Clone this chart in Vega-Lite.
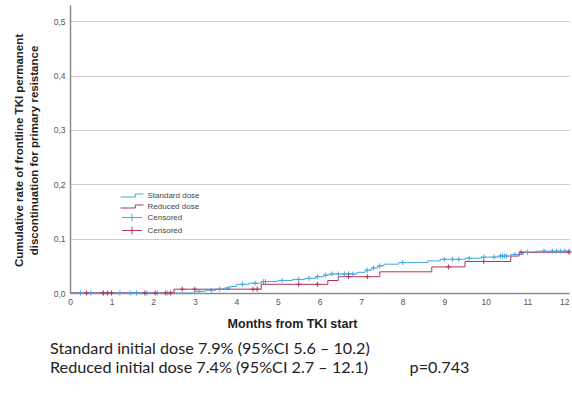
{
  "$schema": "https://vega.github.io/schema/vega-lite/v6.json",
  "width": 499,
  "height": 288,
  "autosize": {"type": "none"},
  "padding": {"left": 70, "top": 5, "right": 3, "bottom": 104},
  "background": "white",
  "config": {"view": {"stroke": null}, "font": "Liberation Sans", "axis": {"grid": false}},
  "title": {
    "text": ["Standard initial dose 7.9% (95%CI 5.6 – 10.2)", "Reduced initial dose 7.4% (95%CI 2.7 – 12.1)\u00a0\u00a0\u00a0\u00a0\u00a0\u00a0\u00a0\u00a0\u00a0\u00a0p=0.743"],
    "orient": "bottom",
    "anchor": "start",
    "frame": "group",
    "dx": -20,
    "offset": 11,
    "font": "Lato",
    "fontSize": 16.2,
    "fontWeight": "normal",
    "color": "#222222",
    "lineHeight": 19,
    "baseline": "top"
  },
  "datasets": {
    "steps": [
      {"series": "Standard dose", "t": 0, "y": 0},
      {"series": "Standard dose", "t": 3.0, "y": 0.003},
      {"series": "Standard dose", "t": 3.25, "y": 0.005},
      {"series": "Standard dose", "t": 3.5, "y": 0.007},
      {"series": "Standard dose", "t": 3.7, "y": 0.009},
      {"series": "Standard dose", "t": 3.85, "y": 0.012},
      {"series": "Standard dose", "t": 4.0, "y": 0.016},
      {"series": "Standard dose", "t": 4.3, "y": 0.018},
      {"series": "Standard dose", "t": 4.6, "y": 0.021},
      {"series": "Standard dose", "t": 5.0, "y": 0.023},
      {"series": "Standard dose", "t": 5.35, "y": 0.025},
      {"series": "Standard dose", "t": 5.65, "y": 0.027},
      {"series": "Standard dose", "t": 5.9, "y": 0.030},
      {"series": "Standard dose", "t": 6.1, "y": 0.033},
      {"series": "Standard dose", "t": 6.25, "y": 0.035},
      {"series": "Standard dose", "t": 6.9, "y": 0.038},
      {"series": "Standard dose", "t": 7.1, "y": 0.042},
      {"series": "Standard dose", "t": 7.25, "y": 0.046},
      {"series": "Standard dose", "t": 7.4, "y": 0.050},
      {"series": "Standard dose", "t": 7.55, "y": 0.053},
      {"series": "Standard dose", "t": 7.9, "y": 0.056},
      {"series": "Standard dose", "t": 8.6, "y": 0.059},
      {"series": "Standard dose", "t": 8.9, "y": 0.062},
      {"series": "Standard dose", "t": 9.5, "y": 0.064},
      {"series": "Standard dose", "t": 9.9, "y": 0.066},
      {"series": "Standard dose", "t": 10.3, "y": 0.068},
      {"series": "Standard dose", "t": 10.6, "y": 0.071},
      {"series": "Standard dose", "t": 10.9, "y": 0.075},
      {"series": "Standard dose", "t": 11.2, "y": 0.077},
      {"series": "Standard dose", "t": 12, "y": 0.077},
      {"series": "Reduced dose", "t": 0, "y": 0},
      {"series": "Reduced dose", "t": 2.5, "y": 0.007},
      {"series": "Reduced dose", "t": 4.6, "y": 0.016},
      {"series": "Reduced dose", "t": 6.2, "y": 0.023},
      {"series": "Reduced dose", "t": 6.45, "y": 0.030},
      {"series": "Reduced dose", "t": 7.45, "y": 0.039},
      {"series": "Reduced dose", "t": 8.7, "y": 0.048},
      {"series": "Reduced dose", "t": 9.5, "y": 0.058},
      {"series": "Reduced dose", "t": 10.6, "y": 0.068},
      {"series": "Reduced dose", "t": 10.8, "y": 0.075},
      {"series": "Reduced dose", "t": 12, "y": 0.075}
    ],
    "censor": [
      {"group": "Censored (Standard)", "t": 0.25, "y": 0},
      {"group": "Censored (Standard)", "t": 0.5, "y": 0},
      {"group": "Censored (Standard)", "t": 0.8, "y": 0},
      {"group": "Censored (Standard)", "t": 1.2, "y": 0},
      {"group": "Censored (Standard)", "t": 1.45, "y": 0},
      {"group": "Censored (Standard)", "t": 1.6, "y": 0},
      {"group": "Censored (Standard)", "t": 1.85, "y": 0},
      {"group": "Censored (Standard)", "t": 2.1, "y": 0},
      {"group": "Censored (Standard)", "t": 2.35, "y": 0},
      {"group": "Censored (Standard)", "t": 3.1, "y": 0.003},
      {"group": "Censored (Standard)", "t": 3.4, "y": 0.005},
      {"group": "Censored (Standard)", "t": 3.6, "y": 0.007},
      {"group": "Censored (Standard)", "t": 3.8, "y": 0.009},
      {"group": "Censored (Standard)", "t": 4.15, "y": 0.016},
      {"group": "Censored (Standard)", "t": 4.45, "y": 0.018},
      {"group": "Censored (Standard)", "t": 4.65, "y": 0.021},
      {"group": "Censored (Standard)", "t": 4.7, "y": 0.021},
      {"group": "Censored (Standard)", "t": 5.1, "y": 0.023},
      {"group": "Censored (Standard)", "t": 5.5, "y": 0.025},
      {"group": "Censored (Standard)", "t": 5.75, "y": 0.027},
      {"group": "Censored (Standard)", "t": 5.95, "y": 0.030},
      {"group": "Censored (Standard)", "t": 6.15, "y": 0.033},
      {"group": "Censored (Standard)", "t": 6.3, "y": 0.035},
      {"group": "Censored (Standard)", "t": 6.45, "y": 0.035},
      {"group": "Censored (Standard)", "t": 6.6, "y": 0.035},
      {"group": "Censored (Standard)", "t": 6.7, "y": 0.035},
      {"group": "Censored (Standard)", "t": 6.8, "y": 0.035},
      {"group": "Censored (Standard)", "t": 7.15, "y": 0.042},
      {"group": "Censored (Standard)", "t": 7.3, "y": 0.046},
      {"group": "Censored (Standard)", "t": 7.45, "y": 0.050},
      {"group": "Censored (Standard)", "t": 8.0, "y": 0.056},
      {"group": "Censored (Standard)", "t": 9.0, "y": 0.062},
      {"group": "Censored (Standard)", "t": 9.2, "y": 0.062},
      {"group": "Censored (Standard)", "t": 9.35, "y": 0.062},
      {"group": "Censored (Standard)", "t": 9.6, "y": 0.064},
      {"group": "Censored (Standard)", "t": 9.95, "y": 0.066},
      {"group": "Censored (Standard)", "t": 10.2, "y": 0.066},
      {"group": "Censored (Standard)", "t": 10.35, "y": 0.068},
      {"group": "Censored (Standard)", "t": 10.4, "y": 0.068},
      {"group": "Censored (Standard)", "t": 10.45, "y": 0.068},
      {"group": "Censored (Standard)", "t": 10.5, "y": 0.068},
      {"group": "Censored (Standard)", "t": 10.7, "y": 0.071},
      {"group": "Censored (Standard)", "t": 11.0, "y": 0.075},
      {"group": "Censored (Standard)", "t": 11.4, "y": 0.077},
      {"group": "Censored (Standard)", "t": 11.6, "y": 0.077},
      {"group": "Censored (Standard)", "t": 11.7, "y": 0.077},
      {"group": "Censored (Standard)", "t": 11.8, "y": 0.077},
      {"group": "Censored (Standard)", "t": 11.9, "y": 0.077},
      {"group": "Censored (Standard)", "t": 12.0, "y": 0.077},
      {"group": "Censored (Reduced)", "t": 0.4, "y": 0},
      {"group": "Censored (Reduced)", "t": 0.8, "y": 0},
      {"group": "Censored (Reduced)", "t": 0.9, "y": 0},
      {"group": "Censored (Reduced)", "t": 1.0, "y": 0},
      {"group": "Censored (Reduced)", "t": 1.8, "y": 0},
      {"group": "Censored (Reduced)", "t": 2.05, "y": 0},
      {"group": "Censored (Reduced)", "t": 2.3, "y": 0},
      {"group": "Censored (Reduced)", "t": 2.42, "y": 0},
      {"group": "Censored (Reduced)", "t": 2.7, "y": 0.007},
      {"group": "Censored (Reduced)", "t": 3.0, "y": 0.007},
      {"group": "Censored (Reduced)", "t": 4.4, "y": 0.007},
      {"group": "Censored (Reduced)", "t": 4.5, "y": 0.007},
      {"group": "Censored (Reduced)", "t": 5.5, "y": 0.016},
      {"group": "Censored (Reduced)", "t": 5.95, "y": 0.016},
      {"group": "Censored (Reduced)", "t": 6.7, "y": 0.030},
      {"group": "Censored (Reduced)", "t": 7.15, "y": 0.030},
      {"group": "Censored (Reduced)", "t": 9.1, "y": 0.048},
      {"group": "Censored (Reduced)", "t": 9.95, "y": 0.058},
      {"group": "Censored (Reduced)", "t": 10.85, "y": 0.075},
      {"group": "Censored (Reduced)", "t": 12.0, "y": 0.075}
    ]
  },
  "encoding": {
    "x": {
      "field": "t",
      "type": "quantitative",
      "scale": {"domain": [0, 12], "nice": false},
      "axis": {
        "title": "Months from TKI start",
        "values": [0, 1, 2, 3, 4, 5, 6, 7, 8, 9, 10, 11, 12],
        "grid": false,
        "ticks": false,
        "labelFontSize": 8.5,
        "labelPadding": 4,
        "labelColor": "#555555",
        "labelFlush": false,
        "labelAlign": {"condition": {"test": "datum.value === 12", "value": "right"}, "value": "center"},
        "domainColor": "#8a8a8a",
        "domainWidth": 1.5,
        "titleFontSize": 12.5,
        "titleFontWeight": "bold",
        "titleColor": "#222222",
        "titleX": 222,
        "titleY": 34,
        "titleBaseline": "alphabetic"
      }
    },
    "y": {
      "field": "y",
      "type": "quantitative",
      "scale": {"domain": [0, 0.53], "nice": false},
      "axis": {
        "title": ["Cumulative rate of frontline TKI permanent", "discontinuation for primary resistance"],
        "values": [0, 0.1, 0.2, 0.3, 0.4, 0.5],
        "labelExpr": "replace(format(datum.value, '.1f'), '.', ',')",
        "grid": true,
        "gridColor": "#cccccc",
        "gridOpacity": 1,
        "gridWidth": 1,
        "ticks": false,
        "labelFontSize": 8.5,
        "labelPadding": 5,
        "labelColor": "#555555",
        "domainColor": "#8a8a8a",
        "domainWidth": 1.5,
        "titleFontSize": 11.5,
        "titleFontWeight": "bold",
        "titleColor": "#222222",
        "titleLineHeight": 15,
        "titleX": -46,
        "titleY": 145,
        "titleBaseline": "bottom"
      }
    }
  },
  "layer": [
    {
      "data": {"name": "steps"},
      "mark": {"type": "line", "interpolate": "step-after", "strokeWidth": 1, "clip": true},
      "encoding": {
        "color": {
          "field": "series",
          "type": "nominal",
          "scale": {
            "domain": ["Standard dose", "Reduced dose", "Censored (Standard)", "Censored (Reduced)"],
            "range": ["#45A7E3", "#B3325A", "#45A7E3", "#B3325A"]
          },
          "legend": {
            "orient": "none",
            "legendX": 55.5,
            "legendY": 184,
            "title": null,
            "labelFontSize": 8,
            "labelColor": "#444444",
            "labelFont": "Liberation Sans",
            "labelExpr": "indexof(datum.label, 'Censored') === 0 ? 'Censored' : datum.label",
            "symbolSize": 144,
            "labelOffset": 9,
            "rowPadding": 0,
            "encode": {
              "symbols": {
                "update": {
                  "shape": {"signal": "datum.index < 2 ? 'M-1.9,0.25H0.55V-0.25H1.9' : 'M-1.65,0H1.65M0,-0.65V0.65'"},
                  "fill": {"value": "transparent"},
                  "stroke": {"signal": "scale('color', datum.value)"},
                  "strokeWidth": {"value": 1}
                }
              }
            }
          }
        }
      }
    },
    {
      "data": {"name": "censor"},
      "mark": {"type": "point", "shape": "M-1,0H1M0,-1V1", "size": 25, "strokeWidth": 1, "filled": false, "opacity": 1},
      "encoding": {
        "color": {"field": "group", "type": "nominal"}
      }
    }
  ]
}
